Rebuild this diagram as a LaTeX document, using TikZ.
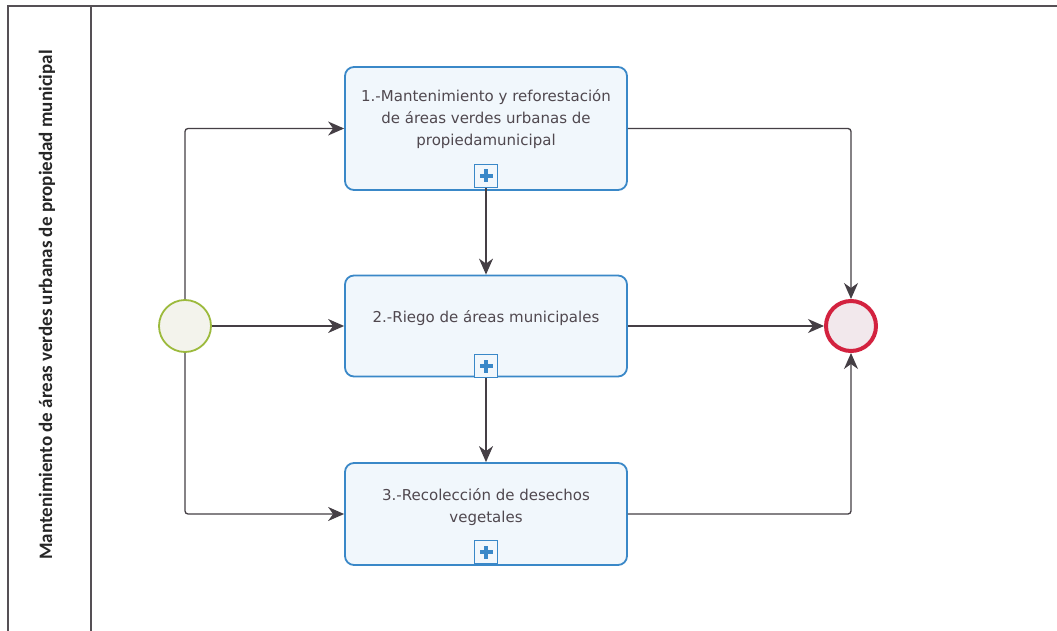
\documentclass[tikz,border=0pt]{standalone}
\usepackage{fontspec}
\setmainfont{DejaVu Sans}
\newfontfamily\lanefont{Carlito}
\usetikzlibrary{arrows.meta,calc}
\definecolor{taskborder}{HTML}{3A88C8}
\definecolor{taskfill}{HTML}{F1F7FC}
\definecolor{flowcol}{HTML}{453F45}
\definecolor{startborder}{HTML}{9CBA3C}
\definecolor{startfill}{HTML}{F3F3EC}
\definecolor{endborder}{HTML}{D3223F}
\definecolor{endfill}{HTML}{F2E8EC}
\definecolor{poolcol}{HTML}{555055}
\definecolor{textcol}{HTML}{50484F}
\tikzset{
  task/.style={draw=taskborder, line width=1.8pt, fill=taskfill, rounded corners=9pt,
    minimum width=282pt, inner sep=0pt},
  tasktext/.style={text=textcol, font=\fontsize{15}{22}\selectfont, align=center},
  submark/.style={draw=taskborder, line width=1.3pt, fill=taskfill, minimum size=23pt, inner sep=0pt},
  startev/.style={circle, draw=startborder, line width=1.8pt, fill=startfill, minimum size=52pt, inner sep=0pt},
  endev/.style={circle, draw=endborder, line width=4pt, fill=endfill, minimum size=50pt, inner sep=0pt},
  flow/.style={draw=flowcol, line width=1.3pt, rounded corners=3pt,
    -{Stealth[length=16pt,width=14pt,inset=5pt]}},
  poolline/.style={draw=poolcol, line width=1.2pt}
}
\newcommand{\plusmark}[2]{%
  \node[submark] (#1) at (#2) {};
  \fill[taskborder] ($(#1)+(-6.5pt,-2pt)$) rectangle ($(#1)+(6.5pt,2pt)$);
  \fill[taskborder] ($(#1)+(-2pt,-6.5pt)$) rectangle ($(#1)+(2pt,6.5pt)$);
}
\begin{document}
\begin{tikzpicture}[x=1pt,y=-1pt]
\useasboundingbox (0,0) rectangle (1057,631);
\fill[white] (0,0) rectangle (1057,631);

% pool and lane header
\draw[poolline] (8,631) -- (8,6) -- (1057,6);
\draw[poolline] (91,6) -- (91,631);
\node[rotate=90, font=\lanefont\bfseries\fontsize{19}{21}\selectfont, text=black!85] (lane) at (47,305)
  {Mantenimiento de áreas verdes urbanas de propiedad municipal};

% events
\node[startev] (start) at (185,326) {};
\node[endev] (end) at (851,326) {};

% tasks
\node[task, minimum height=123pt] (t1) at (486,128.5) {};
\node[tasktext] (t1txt) at (486,119) {1.-Mantenimiento y reforestación\\de áreas verdes urbanas de\\propiedamunicipal};
\node[task, minimum height=101pt] (t2) at (486,326) {};
\node[tasktext] (t2txt) at (486,318) {2.-Riego de áreas municipales};
\node[task, minimum height=102pt] (t3) at (486,514) {};
\node[tasktext] (t3txt) at (486,507) {3.-Recolección de desechos\\vegetales};

% collapsed sub-process markers
\plusmark{m1}{486,176}
\plusmark{m2}{486,366}
\plusmark{m3}{486,552}

% sequence flows
\draw[flow] (start.north) |- (t1.west);
\draw[flow] (start.east) -- (t2.west);
\draw[flow] (start.south) |- (t3.west);
\draw[flow] (m1.south) -- (t2.north);
\draw[flow] (m2.south) -- (t3.north);
\draw[flow] (t1.east) -| (end.north);
\draw[flow] (t2.east) -- (end.west);
\draw[flow] (t3.east) -| (end.south);
\end{tikzpicture}
\end{document}
